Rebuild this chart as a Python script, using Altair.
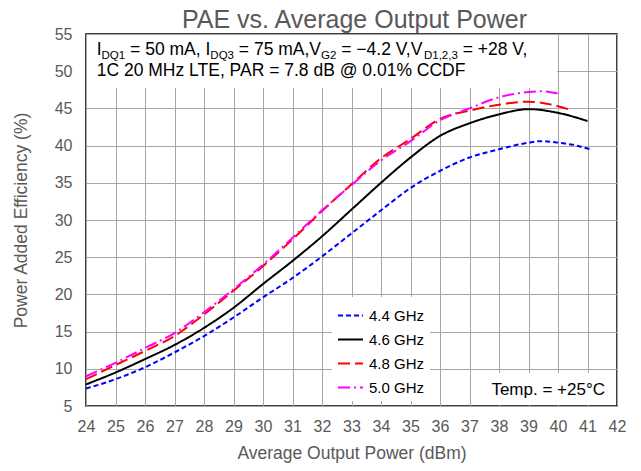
import altair as alt
import pandas as pd

# ---------------- data ----------------
series = ["4.4 GHz", "4.6 GHz", "4.8 GHz", "5.0 GHz"]
colors = ["#0000ff", "#000000", "#ff0000", "#ff00ff"]
dashes = [[5, 3], [1, 0], [12, 5], [12, 4, 2, 4]]

x_44 = [24, 25, 26, 27, 28, 29, 30, 31, 32, 33, 34, 35, 36, 37, 38, 39, 39.4, 40, 40.5, 41.1]
y_44 = [7.35, 8.6, 10.2, 12.2, 14.4, 16.9, 19.6, 22.2, 25.1, 28.2, 31.3, 34.3, 36.6, 38.4, 39.5, 40.4, 40.6, 40.4, 40.1, 39.5]

x_46 = [24, 25, 26, 27, 28, 29, 30, 31, 32, 33, 34, 35, 36, 37, 38, 39, 40, 41]
y_46 = [7.9, 9.5, 11.3, 13.2, 15.5, 18.2, 21.4, 24.5, 27.8, 31.4, 35.0, 38.4, 41.3, 43.0, 44.2, 44.9, 44.4, 43.3]

x_48 = [24, 25, 26, 27, 28, 29, 30, 31, 32, 33, 34, 35, 36, 37, 38, 39, 40, 40.5]
y_48 = [8.6, 10.5, 12.4, 14.4, 17.3, 20.5, 23.8, 27.4, 31.2, 34.8, 38.3, 40.9, 43.6, 44.7, 45.5, 45.9, 45.3, 44.7]

x_50 = [24, 25, 26, 27, 28, 29, 30, 31, 32, 33, 34, 35, 36, 37, 38, 39, 39.5, 40]
y_50 = [9.0, 10.8, 12.8, 14.8, 17.6, 20.7, 24.0, 27.6, 31.3, 34.7, 38.0, 40.6, 43.4, 45.0, 46.5, 47.2, 47.3, 47.0]

x_ticks = list(range(24, 43))
y_ticks = list(range(5, 60, 5))

title_text = "PAE vs. Average Output Power"
note_line1 = ["I", "DQ1", " = 50 mA, I", "DQ3", " = 75 mA,V", "G2", " = \u22124.2 V,V", "D1,2,3", " = +28 V,"]
note_line1_sub = [False, True, False, True, False, True, False, True, False]
note_line2 = "1C 20 MHz LTE, PAR = 7.8 dB @ 0.01% CCDF"
temp_note = "Temp. = +25\u00b0C"

# ---------------- build tables ----------------
rows = []
for name, xs, ys in [(series[0], x_44, y_44), (series[1], x_46, y_46),
                     (series[2], x_48, y_48), (series[3], x_50, y_50)]:
    for a, b in zip(xs, ys):
        rows.append({"series": name, "x": a, "y": b})
df = pd.DataFrame(rows)

FONT = "Liberation Sans"
W = {' ': 278, '=': 584, 'm': 833, 'A': 667, ',': 278, 'I': 278, 'D': 722,
     'Q': 778, 'V': 667, 'G': 778, '\u2212': 584, '.': 278, '+': 584}
for d in "0123456789":
    W[d] = 556

MAIN_FS, SUB_FS = 17.5, 11.5
seg_rows = []
cx = 10.7
for txt, sub in zip(note_line1, note_line1_sub):
    fs = SUB_FS if sub else MAIN_FS
    lead = len(txt) - len(txt.lstrip(" "))
    cx += lead * W[' '] / 1000 * fs
    core = txt.strip(" ")
    seg_rows.append({"t": core, "px": cx, "py": 21 + (4 if sub else 0), "fs": fs})
    cx += sum(W.get(c, 556) for c in core) / 1000 * fs
seg_rows.append({"t": note_line2, "px": 10.7, "py": 41.5, "fs": MAIN_FS})
seg_df = pd.DataFrame(seg_rows)

PW, PH = 531, 372

legend = alt.Legend(
    title=None, orient="none", legendX=246, legendY=263, fillColor="white",
    padding=5, symbolType="stroke", symbolSize=625, symbolStrokeWidth=2,
    labelFont=FONT, labelFontSize=15, labelColor="black", labelOffset=5,
    rowPadding=2, offset=0,
)

lines = alt.Chart(df).mark_line(strokeWidth=2, interpolate="monotone").encode(
    x=alt.X("x:Q", scale=alt.Scale(domain=[24, 42], nice=False, zero=False),
            axis=alt.Axis(values=x_ticks, title="Average Output Power (dBm)",
                          labelPadding=12, titlePadding=10, format="d",
                          labelFlush=False, labelOverlap=False)),
    y=alt.Y("y:Q", scale=alt.Scale(domain=[5, 55], nice=False, zero=False),
            axis=alt.Axis(values=y_ticks, title="Power Added Efficiency (%)",
                          labelPadding=14, titlePadding=24, format="d",
                          labelFlush=False, labelOverlap=False)),
    color=alt.Color("series:N", scale=alt.Scale(domain=series, range=colors), legend=legend),
    strokeDash=alt.StrokeDash("series:N", scale=alt.Scale(domain=series, range=dashes), legend=legend),
)

dummy = pd.DataFrame({"a": [0]})
note_box = alt.Chart(dummy).mark_rect(fill="white").encode(
    x=alt.value(1), x2=alt.value(471), y=alt.value(1), y2=alt.value(54))
temp_box = alt.Chart(dummy).mark_rect(fill="white").encode(
    x=alt.value(389), x2=alt.value(529), y=alt.value(339), y2=alt.value(371))

note_text = alt.Chart(seg_df).mark_text(align="left", baseline="alphabetic", font=FONT,
                                         color="black").encode(
    x=alt.X("px:Q", scale=None), y=alt.Y("py:Q", scale=None),
    text="t:N", size=alt.Size("fs:Q", scale=None, legend=None))

temp_text = alt.Chart(dummy).mark_text(align="right", baseline="alphabetic", font=FONT,
                                        fontSize=17, color="black", text=temp_note).encode(
    x=alt.value(519), y=alt.value(361))

title_mark = alt.Chart(dummy).mark_text(align="center", baseline="alphabetic", font=FONT,
                                         fontSize=25, color="#595959", text=title_text).encode(
    x=alt.value(PW / 2 + 3), y=alt.value(-6.5))

chart = alt.layer(note_box, temp_box, lines, note_text, temp_text, title_mark).properties(
    width=PW, height=PH,
    autosize=alt.AutoSizeParams(type="none"),
    padding={"left": 78, "top": 26, "right": 10, "bottom": 70},
).configure_axis(
    labelFont=FONT, labelFontSize=16, labelColor="#595959",
    titleFont=FONT, titleFontSize=17.5, titleFontWeight="normal", titleColor="#595959",
    grid=True, gridColor="#a6a6a6", gridWidth=1, domain=False, ticks=False,
).configure_view(stroke="#000000", strokeWidth=1.5)

chart.save("out.html", embed_options={"renderer": "svg", "actions": False})
